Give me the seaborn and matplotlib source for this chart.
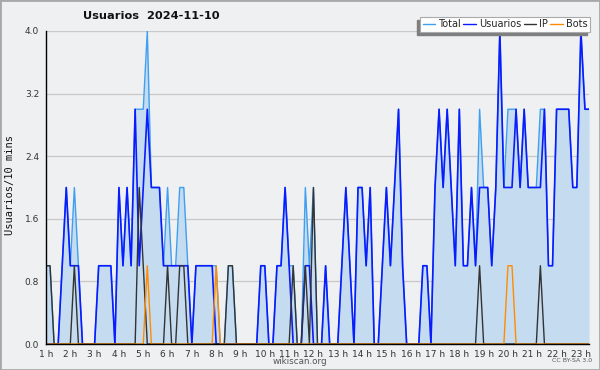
import numpy as np
import pandas as pd
import seaborn as sns
import matplotlib.pyplot as plt
from matplotlib.ticker import MultipleLocator, FixedLocator
from matplotlib.patches import Rectangle
from matplotlib.lines import Line2D

# Usuarios per 10 minutes, 2024-11-10, from 1 h to 23:20
usuarios = [0, 0, 0, 0, 1, 2, 1, 1, 1, 0,
            0, 0, 0, 1, 1, 1, 1, 0, 2, 1,
            2, 1, 3, 1, 2, 3, 2, 2, 2, 1,
            1, 1, 1, 1, 1, 1, 0, 1, 1, 1,
            1, 1, 0, 0, 0, 0, 0, 0, 0, 0,
            0, 0, 0, 1, 1, 0, 0, 1, 1, 2,
            1, 0, 0, 0, 1, 1, 0, 0, 0, 1,
            0, 0, 0, 1, 2, 1, 0, 2, 2, 1,
            2, 0, 0, 1, 2, 1, 2, 3, 1, 0,
            0, 0, 0, 1, 1, 0, 2, 3, 2, 3,
            2, 1, 3, 1, 1, 2, 1, 2, 2, 2,
            1, 2, 4, 2, 2, 2, 3, 2, 3, 2,
            2, 2, 2, 3, 1, 1, 3, 3, 3, 3,
            2, 2, 4, 3, 3]
ip = [1, 1, 0, 0, 0, 0, 0, 1, 0, 0,
      0, 0, 0, 0, 0, 0, 0, 0, 0, 0,
      0, 0, 0, 2, 1, 0, 0, 0, 0, 0,
      1, 0, 0, 1, 1, 0, 0, 0, 0, 0,
      0, 0, 0, 0, 0, 1, 1, 0, 0, 0,
      0, 0, 0, 0, 0, 0, 0, 0, 0, 0,
      0, 1, 0, 0, 1, 0, 2, 0, 0, 0,
      0, 0, 0, 0, 0, 0, 0, 0, 0, 0,
      0, 0, 0, 0, 0, 0, 0, 0, 0, 0,
      0, 0, 0, 0, 0, 0, 0, 0, 0, 0,
      0, 0, 0, 0, 0, 0, 0, 1, 0, 0,
      0, 0, 0, 0, 0, 0, 0, 0, 0, 0,
      0, 0, 1, 0, 0, 0, 0, 0, 0, 0,
      0, 0, 0, 0, 0]
bots = [0, 0, 0, 0, 0, 0, 0, 0, 0, 0,
        0, 0, 0, 0, 0, 0, 0, 0, 0, 0,
        0, 0, 0, 0, 0, 1, 0, 0, 0, 0,
        0, 0, 0, 0, 0, 0, 0, 0, 0, 0,
        0, 0, 1, 0, 0, 0, 0, 0, 0, 0,
        0, 0, 0, 0, 0, 0, 0, 0, 0, 0,
        0, 0, 0, 0, 0, 0, 0, 0, 0, 0,
        0, 0, 0, 0, 0, 0, 0, 0, 0, 0,
        0, 0, 0, 0, 0, 0, 0, 0, 0, 0,
        0, 0, 0, 0, 0, 0, 0, 0, 0, 0,
        0, 0, 0, 0, 0, 0, 0, 0, 0, 0,
        0, 0, 0, 0, 1, 1, 0, 0, 0, 0,
        0, 0, 0, 0, 0, 0, 0, 0, 0, 0,
        0, 0, 0, 0, 0]
total = [1, 1, 0, 0, 1, 2, 1, 2, 1, 0,
         0, 0, 0, 1, 1, 1, 1, 0, 2, 1,
         2, 1, 3, 3, 3, 4, 2, 2, 2, 1,
         2, 1, 1, 2, 2, 1, 0, 1, 1, 1,
         1, 1, 1, 0, 0, 1, 1, 0, 0, 0,
         0, 0, 0, 1, 1, 0, 0, 1, 1, 2,
         1, 1, 0, 0, 2, 1, 2, 0, 0, 1,
         0, 0, 0, 1, 2, 1, 0, 2, 2, 1,
         2, 0, 0, 1, 2, 1, 2, 3, 1, 0,
         0, 0, 0, 1, 1, 0, 2, 3, 2, 3,
         2, 1, 3, 1, 1, 2, 1, 3, 2, 2,
         1, 2, 4, 2, 3, 3, 3, 2, 3, 2,
         2, 2, 3, 3, 1, 1, 3, 3, 3, 3,
         2, 2, 4, 3, 3]

hours = 1 + np.arange(len(total)) / 6  # 10 minute steps
hour_ticks = list(range(1, 24))
hour_labels = [f"{h} h" for h in hour_ticks]
y_ticks = [0.0, 0.8, 1.6, 2.4, 3.2, 4.0]

df = pd.DataFrame({"hora": hours, "Total": total, "Usuarios": usuarios,
                   "IP": ip, "Bots": bots})

series = ["Total", "Usuarios", "IP", "Bots"]
colors = {"Total": "#3f9ff0", "Usuarios": "#0a1cff", "IP": "#333333", "Bots": "#ff8c00"}
widths = {"Total": 1.0, "Usuarios": 1.2, "IP": 1.0, "Bots": 1.0}

sns.set_theme(style="white")
plt.rcParams["font.family"] = ["DejaVu Sans"]

bg = "#eff0f1"
fig = plt.figure(figsize=(6, 3.7), dpi=100, facecolor=bg)
ax = fig.add_axes([46 / 600, 26 / 370, 543 / 600, 313 / 370])
ax.set_facecolor(bg)

ax.fill_between(df["hora"], df["Total"], color="#c5dcf0", lw=0, zorder=1)
for s in series:
    sns.lineplot(data=df, x="hora", y=s, color=colors[s], lw=widths[s], ax=ax, zorder=3)

ax.set_xlim(hours[0], hours[-1])
ax.set_ylim(0, 4)
ax.set_xlabel("")
ax.set_ylabel("")

ax.xaxis.set_major_locator(FixedLocator(hour_ticks))
ax.set_xticklabels(hour_labels)
ax.xaxis.set_minor_locator(MultipleLocator(1 / 6))
ax.set_yticks(y_ticks)
ax.set_yticklabels([f"{v:.1f}" for v in y_ticks])
ax.yaxis.set_minor_locator(MultipleLocator(0.2))
ax.tick_params(axis="both", which="both", direction="out", color="black",
               labelsize=6.5, labelcolor="#333333", width=0.8)
ax.tick_params(axis="x", which="both", length=3, pad=1)
ax.tick_params(axis="y", which="both", length=4, pad=1)
ax.grid(axis="y", color="#c8c8c8", lw=0.9, zorder=0)
ax.set_axisbelow(True)

for side in ["top", "right"]:
    ax.spines[side].set_visible(False)
for side in ["left", "bottom"]:
    ax.spines[side].set_color("black")
    ax.spines[side].set_linewidth(1.0)
    ax.spines[side].set_zorder(5)

fig.text(151 / 600, 1 - 16 / 370, "Usuarios  2024-11-10", ha="center", va="center",
         fontsize=8.2, weight="bold", color="#111111")
fig.text(10 / 600, 0.5, "Usuarios/10 mins", rotation=90, ha="center", va="center",
         fontsize=7.5, family="DejaVu Sans Mono", color="#111111")
fig.text(300 / 600, 1 - 362 / 370, "wikiscan.org", ha="center", va="center",
         fontsize=6.3, color="#555555")
fig.text(592 / 600, 1 - 361 / 370, "CC BY-SA 3.0", ha="right", va="center",
         fontsize=4.5, color="#555555")

# legend with a grey drop shadow to the lower left
leg_kw = dict(ncol=4, loc="upper right", fontsize=7, frameon=True, fancybox=False,
              framealpha=1, handlelength=1.3, handletextpad=0.3,
              columnspacing=0.25, borderpad=0.25, borderaxespad=0)
grey = "#7f7f7f"
shadow = fig.legend([Line2D([], [], color=grey, lw=1.0) for s in series], series,
                    bbox_to_anchor=(587 / 600, 1 - 20 / 370), facecolor=grey,
                    edgecolor=grey, **leg_kw)
shadow.set_zorder(9)
for t in shadow.get_texts():
    t.set_visible(False)  # keeps the box size, only the grey frame shows
handles = [Line2D([], [], color=colors[s], lw=1.0) for s in series]
leg = fig.legend(handles, series, bbox_to_anchor=(590 / 600, 1 - 17 / 370),
                 edgecolor="#aaaaaa", facecolor="white", **leg_kw)
leg.set_zorder(10)
leg.get_frame().set_linewidth(0.8)

fig.add_artist(Rectangle((0, 0), 1, 1, transform=fig.transFigure, fill=False,
                         edgecolor="#a8a8a8", lw=2, zorder=20))

fig.savefig("out.png", dpi=100, facecolor=bg)
